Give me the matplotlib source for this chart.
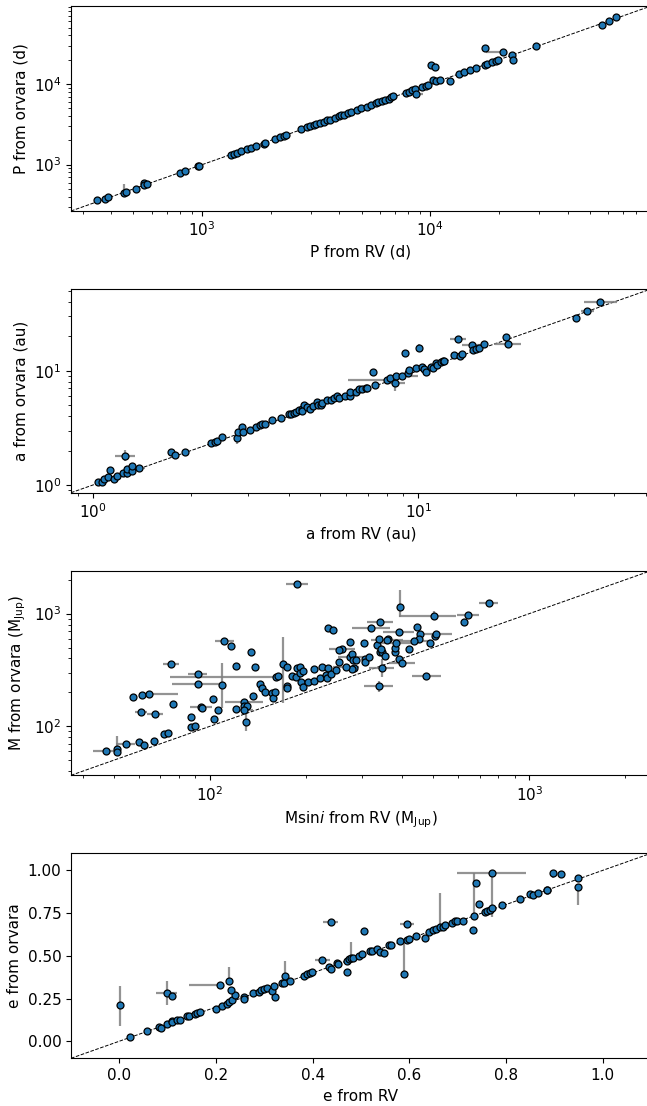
import numpy as np
import matplotlib
matplotlib.use("Agg")
import matplotlib.pyplot as plt

plt.rcParams["font.size"] = 11

# ---- panel 1: period (days) ----
P_RV = [346, 376, 387, 454, 464, 512, 556, 556, 571, 803, 843, 959, 970,
        1337, 1380, 1422, 1483, 1568, 1641, 1722, 1858, 1879, 2082, 2205, 2290, 2340,
        2704, 2873, 2972, 3097, 3170, 3281, 3406, 3524, 3648, 3828, 3963, 4064, 4188,
        4355, 4487, 4753, 4989, 5260, 5483, 5781, 5929, 6138, 6353, 6592, 6745, 6871,
        7798, 8054, 8337, 8570, 8670, 9247, 9550, 9817, 10260, 10590, 11070, 10120, 10540, 12160,
        13370, 14060, 14930, 15850, 17380, 17780, 18580, 19370, 19750, 17300, 20840, 22800,
        23170, 29170, 56490, 60950, 65010]
P_ORV = [360, 370, 396, 444, 453, 502, 597, 553, 569, 794, 833, 953, 973,
         1331, 1371, 1410, 1466, 1552, 1629, 1706, 1824, 1879, 2088, 2188, 2273, 2317,
         2729, 2891, 2999, 3119, 3177, 3273, 3396, 3532, 3631, 3811, 3963, 4111, 4188,
         4355, 4477, 4742, 4977, 5224, 5420, 5741, 5916, 6081, 6324, 6561, 6823, 7015,
         7798, 8035, 8337, 8670, 7516, 9183, 9528, 9817, 11220, 10790, 11110, 17260, 16290, 10790,
         13450, 13970, 14790, 15960, 17420, 17910, 18620, 19320, 19720, 27800, 24770, 23190,
         19910, 29720, 54200, 61380, 68230]
# visible error bars: (index, x_lo, x_hi, y_lo, y_hi) in dex
P_ERR = [(3, 0, 0, 0.02, 0.11), (10, 0, 0, 0.03, 0.04), (56, 0.03, 0.03, 0, 0),
         (64, 0, 0, 0.05, 0), (76, 0.075, 0, 0, 0), (75, 0, 0.02, 0, 0),
         (78, 0, 0, 0.02, 0.02)]

# ---- panel 2: semi-major axis (au) ----
A_RV = [1.041, 1.069, 1.080, 1.113, 1.128, 1.161, 1.186, 1.235, 1.255, 1.272, 1.275, 1.317, 1.324, 1.385,
        1.739, 1.795, 1.924, 2.313, 2.382, 2.414, 2.494, 2.782, 2.797, 2.880, 2.896, 3.046, 3.171,
        3.257, 3.310, 3.372, 3.556, 3.793,
        4.011, 4.064, 4.142, 4.220, 4.311, 4.405, 4.452, 4.405, 4.549, 4.647, 4.746, 4.875, 4.927,
        5.020, 5.061, 5.240, 5.411, 5.528, 5.632, 5.708, 5.972, 6.184, 6.184, 6.437, 6.576, 6.699,
        6.899, 6.973, 7.277, 7.357,
        8.013, 8.208, 8.474, 8.543, 8.917, 9.304, 9.354, 9.815, 10.27, 10.41, 10.58, 10.98, 11.13,
        11.34, 11.43, 11.71, 11.89, 11.99,
        9.134, 10.05, 12.89, 13.24, 13.42, 13.60, 14.58, 14.73, 15.05, 15.33, 15.87, 18.63, 18.83,
        30.54, 33.01, 36.25]
A_ORV = [1.062, 1.055, 1.128, 1.167, 1.344, 1.128, 1.207, 1.265, 1.806, 1.265, 1.380, 1.335, 1.476, 1.399,
         1.931, 1.842, 1.957, 2.314, 2.393, 2.442, 2.647, 2.577, 2.928, 3.217, 2.928, 3.027, 3.217,
         3.348, 3.393, 3.439, 3.703, 3.830,
         4.151, 4.178, 4.292, 4.379, 4.529, 4.652, 5.011, 4.409, 4.781, 4.652, 4.876, 5.357, 5.011,
         5.045, 5.216, 5.539, 5.576, 5.729, 6.044, 5.768, 5.963, 6.044, 6.508, 6.552, 6.866, 6.914,
         7.007, 7.102, 9.734, 7.494,
         8.234, 8.687, 7.852, 9.044, 8.983, 9.477, 10.20, 10.48, 10.77, 10.34, 9.734, 10.70, 10.55,
         11.67, 11.13, 11.99, 12.07, 12.24,
         14.27, 15.89, 13.62, 18.80, 13.35, 14.09, 16.66, 15.16, 15.47, 15.89, 17.00, 19.56, 17.00,
         29.08, 33.26, 39.61]
A_ERR = [(8, 0.03, 0.03, 0.05, 0.05), (9, 0.02, 0.02, 0.04, 0.04), (13, 0.02, 0.02, 0, 0),
         (14, 0, 0, 0, 0.03), (21, 0, 0, 0.05, 0.05), (62, 0.12, 0.02, 0, 0),
         (64, 0.03, 0.03, 0.07, 0.07), (66, 0, 0.05, 0, 0), (81, 0, 0, 0.03, 0.03),
         (83, 0.025, 0.025, 0, 0), (86, 0.03, 0.03, 0, 0), (92, 0.04, 0.04, 0, 0),
         (94, 0.02, 0.02, 0, 0), (95, 0.05, 0.05, 0, 0)]

# ---- panel 3: mass (M_Jup) ----
M_RV = [47.1, 51.1, 51.1, 54.5, 59.8, 62.1, 66.6, 71.9, 74.0, 87.3, 89.7, 87.3, 102.8, 106.1,
        93.7, 94.7, 102.2, 120.9, 127.6, 128.3, 130.4, 127.6, 130.1, 136.2, 143.4, 145.4, 148.5,
        156.4, 157.3, 160.3, 160.7, 162.9, 169.2, 174.7, 173.8, 174.3, 180.5, 186.5, 187.0, 191.6,
        192.1, 195.7, 192.6, 195.7, 202.3, 211.2, 212.4, 221.8, 223.6, 231.6, 234.1, 232.8, 239.2,
        248.5, 254.0, 259.5, 254.0, 275.4, 274.8, 278.5, 280.7, 283.1, 277.7, 266.7, 287.6, 305.3,
        305.3, 314.5, 304.4, 234.1, 243.2, 318.8, 340.3, 333.8, 338.4, 340.3, 345.8, 344.0, 353.4,
        360.2, 357.3, 379.2, 380.2, 382.3, 390.6, 399.2, 389.5, 419.2, 344.9, 337.5, 393.8, 443.7,
        453.5, 451.0, 434.2, 489.1, 508.0, 509.4, 502.5, 626.0, 642.9, 746.3, 476.0, 187.5, 110.8,
        116.4, 134.0, 120.9, 138.4, 91.5, 91.7, 109.4, 75.6, 76.9, 57.5, 61.1, 64.5, 60.8, 67.3]
M_ORV = [60.4, 62.5, 59.2, 69.7, 72.6, 67.8, 74.6, 84.9, 86.7, 99.3, 100.7, 121.8, 116.9, 138.7,
         148.4, 146.4, 176.0, 142.5, 165.6, 151.5, 152.5, 139.6, 108.5, 185.8, 237.6, 217.4, 201.8,
         196.3, 177.2, 203.2, 272.3, 281.6, 357.5, 333.9, 228.0, 218.9, 281.6, 276.0, 327.2, 333.9,
         295.4, 309.8, 249.2, 223.4, 249.2, 254.3, 320.6, 270.4, 333.9, 285.5, 327.2, 266.7, 289.4,
         316.2, 369.8, 485.8, 476.0, 409.6, 560.5, 438.5, 385.4, 331.6, 322.8, 338.5, 388.0, 393.3,
         372.4, 412.4, 553.0, 741.1, 721.1, 741.1, 837.7, 527.2, 596.0, 459.9, 456.8, 485.8, 423.8,
         596.0, 583.9, 459.9, 492.4, 553.0, 396.0, 364.9, 687.6, 483.0, 331.6, 226.5, 1154, 761.6,
         659.9, 596.0, 572.1, 549.2, 629.2, 659.9, 953.5, 849.6, 980, 1236, 279.7, 1820, 568.2,
         513.1, 459.9, 345.5, 333.9, 291.4, 236.0, 231.2, 357.5, 158.9, 180.8, 189.7, 193.6, 134.1, 128.7]
M_ERR = [(0, 0.04, 0.04, 0, 0), (1, 0, 0, 0, 0.12), (3, 0.03, 0.03, 0, 0), (14, 0.035, 0.035, 0, 0),
         (18, 0.06, 0.06, 0, 0), (21, 0.03, 0.03, 0, 0), (22, 0, 0, 0.08, 0.08), (30, 0.33, 0, 0, 0),
         (32, 0, 0, 0.35, 0.24), (55, 0.04, 0.04, 0, 0), (57, 0.04, 0.04, 0, 0), (63, 0.04, 0.04, 0, 0),
         (71, 0.06, 0.06, 0, 0), (72, 0.04, 0.04, 0, 0), (80, 0.05, 0.05, 0, 0), (83, 0.06, 0.06, 0, 0),
         (85, 0.04, 0.04, 0, 0), (86, 0.05, 0.05, 0, 0), (88, 0.04, 0.04, 0.08, 0.08),
         (89, 0.045, 0.045, 0.05, 0.05), (90, 0, 0, 0.09, 0.15), (94, 0.05, 0.05, 0, 0),
         (97, 0.05, 0.05, 0, 0), (98, 0.11, 0.07, 0.04, 0.04), (100, 0.035, 0.035, 0, 0),
         (101, 0.03, 0.03, 0, 0), (102, 0.045, 0.045, 0, 0), (103, 0.035, 0.035, 0, 0),
         (104, 0.03, 0.03, 0, 0), (109, 0.03, 0.03, 0, 0), (110, 0.08, 0.08, 0, 0),
         (111, 0, 0, 0.2, 0.2), (112, 0.025, 0.025, 0, 0), (116, 0.03, 0.09, 0, 0),
         (117, 0.02, 0.02, 0, 0), (118, 0.025, 0.025, 0, 0)]

# ---- panel 4: eccentricity ----
E_RV = [0.0016, 0.023, 0.057, 0.083, 0.087, 0.099, 0.109, 0.108, 0.120, 0.126, 0.141, 0.144, 0.157, 0.160, 0.167,
        0.098, 0.109, 0.199, 0.212, 0.222, 0.226, 0.233, 0.240, 0.257, 0.258, 0.277, 0.288, 0.294, 0.300,
        0.305, 0.315, 0.322, 0.321, 0.336, 0.341, 0.343, 0.353,
        0.209, 0.226, 0.231, 0.383, 0.388, 0.395, 0.398, 0.420, 0.434, 0.437, 0.451, 0.453, 0.437,
        0.471, 0.472, 0.476, 0.479, 0.484, 0.496, 0.503, 0.507, 0.519, 0.522, 0.534, 0.539, 0.548, 0.558,
        0.563, 0.580, 0.589, 0.595, 0.595, 0.599, 0.614, 0.633, 0.641, 0.649, 0.655, 0.664, 0.670, 0.674,
        0.688, 0.694, 0.699, 0.712,
        0.732, 0.733, 0.738, 0.744, 0.756, 0.761, 0.766, 0.771, 0.771, 0.791, 0.829, 0.850, 0.856, 0.867,
        0.884, 0.885, 0.898, 0.914, 0.948, 0.949]
E_ORV = [0.211, 0.023, 0.057, 0.086, 0.080, 0.098, 0.121, 0.113, 0.125, 0.127, 0.145, 0.150, 0.160, 0.166, 0.170,
         0.281, 0.266, 0.186, 0.207, 0.217, 0.227, 0.242, 0.270, 0.256, 0.246, 0.281, 0.291, 0.299, 0.307,
         0.311, 0.295, 0.256, 0.322, 0.342, 0.342, 0.379, 0.352,
         0.332, 0.354, 0.301, 0.383, 0.391, 0.398, 0.404, 0.475, 0.434, 0.424, 0.455, 0.453, 0.699,
         0.406, 0.471, 0.482, 0.490, 0.486, 0.500, 0.510, 0.648, 0.531, 0.529, 0.541, 0.520, 0.516, 0.561,
         0.566, 0.588, 0.396, 0.684, 0.590, 0.598, 0.617, 0.602, 0.641, 0.652, 0.658, 0.666, 0.670, 0.680,
         0.693, 0.705, 0.705, 0.705,
         0.650, 0.732, 0.926, 0.803, 0.754, 0.760, 0.768, 0.779, 0.986, 0.795, 0.830, 0.861, 0.855, 0.869,
         0.885, 0.887, 0.986, 0.977, 0.953, 0.900]
# (index, x_lo, x_hi, y_lo, y_hi) in absolute units
E_ERR = [(0, 0, 0, 0.12, 0.11), (15, 0.022, 0.022, 0.07, 0.07), (31, 0, 0, 0.02, 0.02),
         (35, 0, 0, 0, 0.09), (37, 0.064, 0, 0, 0), (38, 0, 0, 0, 0.078), (44, 0.015, 0.015, 0, 0),
         (49, 0.015, 0.015, 0, 0), (53, 0, 0, 0, 0.09), (66, 0, 0, 0, 0.18), (67, 0.015, 0.015, 0, 0),
         (75, 0, 0, 0, 0.2), (82, 0, 0, 0.02, 0.02), (83, 0, 0, 0, 0.25),
         (90, 0.072, 0.07, 0.26, 0), (98, 0, 0, 0.03, 0), (101, 0, 0, 0.1, 0)]

PANELS = [
    (P_RV, P_ORV, P_ERR, True, (10**2.425, 10**4.968), "P from RV (d)", "P from orvara (d)"),
    (A_RV, A_ORV, A_ERR, True, (10**-0.067, 10**1.715), "a from RV (au)", "a from orvara (au)"),
    (M_RV, M_ORV, M_ERR, True, (10**1.565, 10**3.381),
     r"Msin$i$ from RV (M$_{\rm Jup}$)", r"M from orvara (M$_{\rm Jup}$)"),
    (E_RV, E_ORV, E_ERR, False, (-0.1, 1.1), "e from RV", "e from orvara"),
]

W, H = 647, 1106
# axes boxes in pixels: (top, bottom); left/right shared (right edge runs off the image)
BOXES = [(6, 211), (289, 492.7), (570.7, 775.3), (853.3, 1058.3)]
LEFT, RIGHT = 71, 651

fig = plt.figure(figsize=(W / 100, H / 100), dpi=100)

for (xv, yv, errs, logscale, lims, xlab, ylab), (top, bot) in zip(PANELS, BOXES):
    ax = fig.add_axes([LEFT / W, (H - bot) / H, (RIGHT - LEFT) / W, (bot - top) / H])
    x = np.array(xv, float)
    y = np.array(yv, float)
    xe = np.zeros((2, len(x)))
    ye = np.zeros((2, len(y)))
    for i, xl, xh, yl, yh in errs:
        if logscale:
            xe[:, i] = x[i] * (1 - 10**-xl), x[i] * (10**xh - 1)
            ye[:, i] = y[i] * (1 - 10**-yl), y[i] * (10**yh - 1)
        else:
            xe[:, i] = xl, xh
            ye[:, i] = yl, yh
    ax.plot(lims, lims, "k--", lw=0.7, zorder=1)
    ax.errorbar(x, y, xerr=xe, yerr=ye, fmt="none", ecolor="gray",
                elinewidth=1.6, alpha=0.85, zorder=2)
    ax.plot(x, y, "o", mfc="#1f77b4", mec="k", ms=5, mew=0.9, zorder=3)
    if logscale:
        ax.set_xscale("log")
        ax.set_yscale("log")
    else:
        ax.set_xticks([0.0, 0.2, 0.4, 0.6, 0.8, 1.0])
        ax.set_yticks([0.0, 0.25, 0.5, 0.75, 1.0])
    ax.set_xlim(lims)
    ax.set_ylim(lims)
    ax.set_xlabel(xlab)
    ax.set_ylabel(ylab)

fig.savefig("out.png", dpi=100)
